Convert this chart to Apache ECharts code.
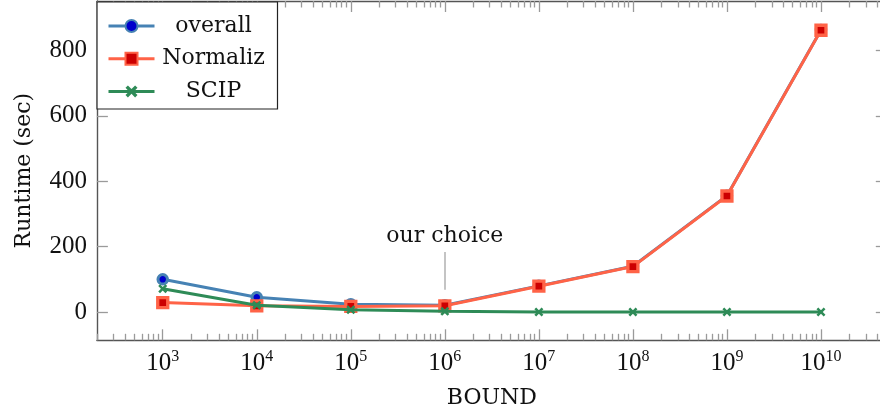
<!DOCTYPE html>
<html>
<head>
<meta charset="utf-8">
<script src="https://cdn.jsdelivr.net/npm/echarts@6/dist/echarts.min.js"></script>
<style>
html,body{margin:0;padding:0;background:#fff;}
#chart{width:880px;height:417px;}
</style>
</head>
<body>
<div id="chart"></div>
<script>
// ---- data ----
const bounds = [1e3, 1e4, 1e5, 1e6, 1e7, 1e8, 1e9, 1e10];
const overall = [100, 45, 24, 21, 80, 140, 356, 863];
const normaliz = [29, 19, 17, 19, 79, 139, 355, 862];
const scip = [71, 21, 7, 2, 0, 0, 0, 0];
const yTicks = [0, 200, 400, 600, 800];
const majorX = [1e3, 1e4, 1e5, 1e6, 1e7, 1e8, 1e9, 1e10];
const choiceBound = 1e6;
const choiceLabel = 'our choice';

const xMin = Math.pow(10, 2.3), xMax = Math.pow(10, 10.7);
const minorX = [];
for (let k = 2; k <= 10; k++) {
  for (let m = 2; m <= 9; m++) {
    const v = m * Math.pow(10, k);
    if (v >= xMin && v <= xMax) minorX.push(v);
  }
}

const serifWord = 'DejaVu Serif';
const serifNum = 'Liberation Serif';
const axisLineCol = '#555';
const tickCol = '#9a9a9a';
const LW = 3;

const pair = (ys) => bounds.map((b, i) => [b, ys[i]]);
const xShape = 'path://M2,0 L5,3 L8,0 L10,2 L7,5 L10,8 L8,10 L5,7 L2,10 L0,8 L3,5 L0,2 Z';

const baseX = {
  type: 'log', logBase: 10, min: xMin, max: xMax,
  splitLine: {show: false}, axisLabel: {show: false}
};

const chart = echarts.init(document.getElementById('chart'), null, {renderer: 'canvas'});
chart.setOption({
  animation: false,
  backgroundColor: '#fff',
  grid: {left: 96.9, top: 1, width: 789.9, height: 339.3, containLabel: false, outerBoundsMode: 'none'},
  legend: {
    left: 97, top: 2, orient: 'vertical',
    backgroundColor: '#fff', borderColor: '#222', borderWidth: 1.2,
    padding: [13, 10, 6.6, 10], itemGap: 10.7,
    itemWidth: 46, itemHeight: 15,
    lineStyle: {width: LW},
    data: ['overall', 'Normaliz', 'SCIP'],
    formatter: '{t|{name}}',
    textStyle: {
      rich: {t: {width: 108, align: 'center', fontFamily: serifWord, fontSize: 22, lineHeight: 22, color: '#111'}}
    }
  },
  xAxis: [
    Object.assign({}, baseX, {
      position: 'bottom',
      axisLine: {show: true, onZero: false, lineStyle: {color: axisLineCol, width: 1.4}},
      axisTick: {show: true, inside: true, length: 11, customValues: majorX, lineStyle: {color: tickCol, width: 1.3}},
      axisLabel: {
        show: true, customValues: majorX, margin: 8,
        formatter: (v) => '{b|10}{s|' + Math.round(Math.log10(v)) + '}',
        rich: {
          b: {fontFamily: serifNum, fontSize: 25, lineHeight: 28, verticalAlign: 'bottom', color: '#111'},
          s: {fontFamily: serifNum, fontSize: 16, lineHeight: 16, verticalAlign: 'top', color: '#111'}
        }
      },
      name: 'BOUND', nameLocation: 'middle', nameGap: 47,
      nameTextStyle: {fontFamily: serifWord, fontSize: 22, color: '#111'}
    }),
    Object.assign({}, baseX, {
      position: 'bottom',
      axisLine: {show: false, onZero: false},
      axisTick: {show: true, inside: true, length: 6.5, customValues: minorX, lineStyle: {color: tickCol, width: 1.3}}
    }),
    Object.assign({}, baseX, {
      position: 'top',
      axisLine: {show: true, onZero: false, lineStyle: {color: axisLineCol, width: 1.4}},
      axisTick: {show: true, inside: true, length: 11, customValues: majorX, lineStyle: {color: tickCol, width: 1.3}}
    }),
    Object.assign({}, baseX, {
      position: 'top',
      axisLine: {show: false, onZero: false},
      axisTick: {show: true, inside: true, length: 6.5, customValues: minorX, lineStyle: {color: tickCol, width: 1.3}}
    })
  ],
  yAxis: [
    {
      type: 'value', min: -86.5, max: 951.5, position: 'left',
      splitLine: {show: false},
      axisLine: {show: true, onZero: false, lineStyle: {color: axisLineCol, width: 1.4}},
      axisTick: {show: true, inside: true, length: 11, customValues: yTicks, lineStyle: {color: tickCol, width: 1.3}},
      axisLabel: {show: true, customValues: yTicks, margin: 10, fontFamily: serifNum, fontSize: 25, color: '#111'},
      name: 'Runtime (sec)', nameLocation: 'middle', nameGap: 62, nameRotate: 90,
      nameTextStyle: {fontFamily: serifWord, fontSize: 22, color: '#111'}
    },
    {
      type: 'value', min: -86.5, max: 951.5, position: 'right',
      splitLine: {show: false},
      axisLine: {show: false, onZero: false},
      axisTick: {show: true, inside: true, length: 11, customValues: yTicks, lineStyle: {color: tickCol, width: 1.3}},
      axisLabel: {show: false}
    }
  ],
  series: [
    {
      name: 'overall', type: 'line', xAxisIndex: 0, yAxisIndex: 0,
      data: pair(overall),
      symbol: 'circle', symbolSize: 9.5, showSymbol: true,
      lineStyle: {color: '#4682b4', width: LW},
      itemStyle: {color: '#0000cc', borderColor: '#4682b4', borderWidth: 3},
      z: 2,
      markLine: {
        silent: true, symbol: ['none', 'none'],
        lineStyle: {color: '#b0b0b0', width: 1.5, type: 'solid'},
        label: {show: true, position: 'end', distance: 5, formatter: choiceLabel,
                fontFamily: serifWord, fontSize: 22, color: '#111'},
        data: [[{coord: [choiceBound, 68]}, {coord: [choiceBound, 184]}]]
      }
    },
    {
      name: 'Normaliz', type: 'line', xAxisIndex: 0, yAxisIndex: 0,
      data: pair(normaliz),
      symbol: 'rect', symbolSize: 10, showSymbol: true,
      lineStyle: {color: '#ff6347', width: LW},
      itemStyle: {color: '#cc0000', borderColor: '#ff6347', borderWidth: 3.3},
      z: 3
    },
    {
      name: 'SCIP', type: 'line', xAxisIndex: 0, yAxisIndex: 0,
      data: pair(scip),
      symbol: xShape, symbolSize: 9, showSymbol: true,
      lineStyle: {color: '#2e8b57', width: LW},
      itemStyle: {color: '#2e8b57', borderWidth: 0},
      z: 4
    }
  ]
});
</script>
</body>
</html>
